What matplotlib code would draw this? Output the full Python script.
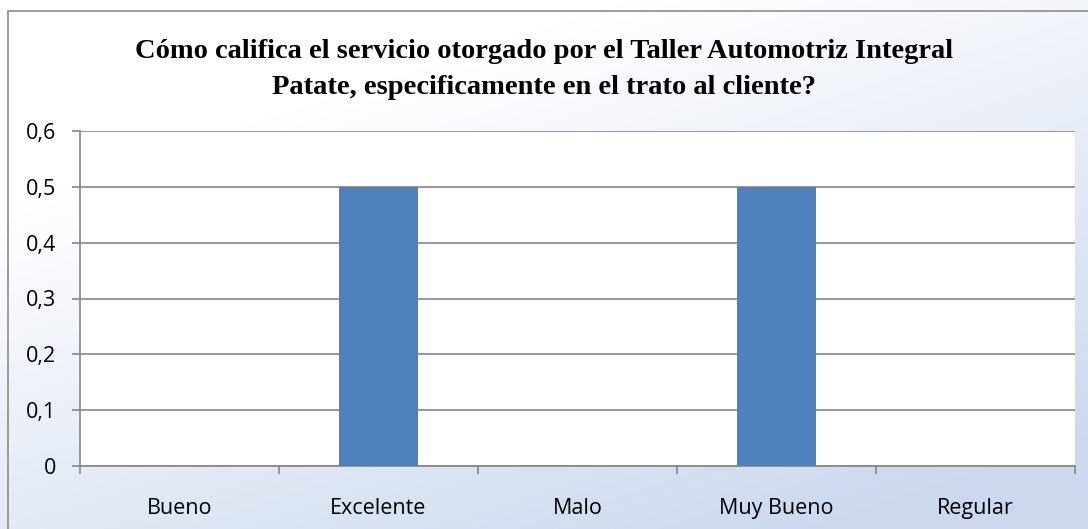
import numpy as np
import matplotlib
matplotlib.use("Agg")
import matplotlib.pyplot as plt
from matplotlib.ticker import FuncFormatter, FixedLocator
from matplotlib.patches import Rectangle

categories = ["Bueno", "Excelente", "Malo", "Muy Bueno", "Regular"]
values = [0.0, 0.5, 0.0, 0.5, 0.0]
yticks = [0, 0.1, 0.2, 0.3, 0.4, 0.5, 0.6]
title_lines = ["Cómo califica el servicio otorgado por el Taller Automotriz Integral",
               "Patate, especificamente en el trato al cliente?"]

W, H = 1088, 529
fig = plt.figure(figsize=(W / 100, H / 100), dpi=100)

# gradient background
bg = fig.add_axes([0, 0, 1, 1], zorder=-10)
yy, xx = np.mgrid[0:1:200j, 0:1:400j]
t = np.clip((xx * 0.6 + yy * 0.9) - 0.35, 0, 1) / 1.15
c0 = np.array([1.0, 1.0, 1.0])
c1 = np.array([0xc4, 0xd3, 0xec]) / 255
img = c0[None, None, :] * (1 - t[..., None]) + c1[None, None, :] * t[..., None]
bg.imshow(img, aspect="auto", extent=[0, 1, 0, 1], origin="upper")
bg.add_patch(Rectangle((8 / W, -0.1), 1.2, (H - 11) / H + 0.1, transform=bg.transAxes,
                       fill=False, edgecolor="#8c8c8c", linewidth=1.2))
bg.set_xlim(0, 1); bg.set_ylim(0, 1)
bg.axis("off")

x0, x1 = 80, 1075
y0, y1 = 466, 131
ax = fig.add_axes([x0 / W, 1 - y0 / H, (x1 - x0) / W, (y0 - y1) / H])
ax.set_facecolor("white")

x = np.arange(len(categories))
ax.bar(x, values, width=0.4, color="#4f81bd", zorder=3)
ax.set_xlim(-0.5, len(categories) - 0.5)
ax.set_ylim(0, 0.6)
ax.yaxis.set_major_locator(FixedLocator(yticks))
ax.yaxis.set_major_formatter(FuncFormatter(lambda v, p: ("%g" % round(v, 2)).replace(".", ",")))
ax.grid(axis="y", color="#868686", linewidth=1.2, zorder=1)
ax.set_xticks(x)
ax.set_xticklabels(categories)
ax.xaxis.set_minor_locator(FixedLocator(np.arange(-0.5, len(categories), 1.0)))
ax.tick_params(axis="x", which="major", length=0, pad=23, labelsize=15.5, labelcolor="black")
ax.tick_params(axis="x", which="minor", length=6, width=1.2, color="#868686")
ax.tick_params(axis="y", length=6, width=1.2, color="#868686", labelsize=15.5, pad=11)
for lab in ax.get_xticklabels() + ax.get_yticklabels():
    lab.set_family(["Open Sans", "DejaVu Sans"])
for s in ["top", "right"]:
    ax.spines[s].set_visible(False)
for s in ["left", "bottom"]:
    ax.spines[s].set_color("#868686")
    ax.spines[s].set_linewidth(1.2)

for line, ypix in zip(title_lines, [51, 88]):
    fig.text(0.5, 1 - ypix / H, line, ha="center", va="center", fontsize=20.5,
             fontweight="bold", family=["Liberation Serif", "DejaVu Serif"])

fig.savefig("out.png", dpi=100)
